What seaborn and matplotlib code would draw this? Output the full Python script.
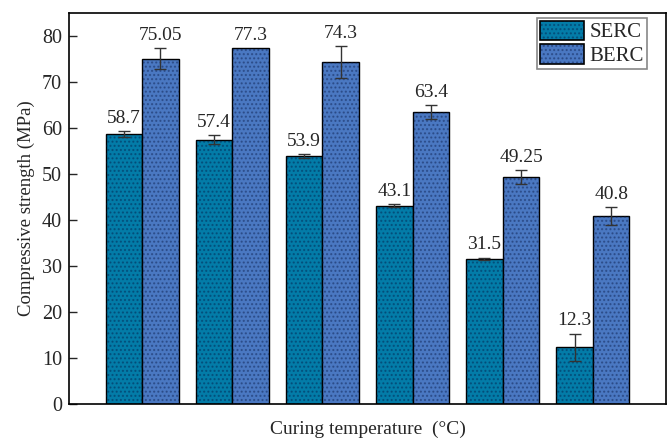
import matplotlib
matplotlib.use("Agg")
import matplotlib.pyplot as plt
from matplotlib.patches import Rectangle
from matplotlib.legend_handler import HandlerTuple
import seaborn as sns
import pandas as pd

# Compressive strength (MPa) of the two mixes at six curing temperatures
groups = ["T1", "T2", "T3", "T4", "T5", "T6"]
serc_strength = [58.7, 57.4, 53.9, 43.1, 31.5, 12.3]
serc_err = [0.65, 1.0, 0.45, 0.3, 0.3, 3.0]
berc_strength = [75.05, 77.3, 74.3, 63.4, 49.25, 40.8]
berc_err = [2.35, 0.0, 3.4, 1.5, 1.55, 1.9]
labels_serc = ["58.7", "57.4", "53.9", "43.1", "31.5", "12.3"]
labels_berc = ["75.05", "77.3", "74.3", "63.4", "49.25", "40.8"]
mixes = ["SERC", "BERC"]
colors = {"SERC": "#037ca8", "BERC": "#4a78c2"}
dot_color = (0.02, 0.08, 0.25, 0.38)

df = pd.DataFrame({
    "group": groups * 2,
    "mix": ["SERC"] * len(groups) + ["BERC"] * len(groups),
    "strength": serc_strength + berc_strength,
})

sns.set_style("ticks")
plt.rcParams["font.family"] = ["Liberation Serif", "DejaVu Serif"]

fig = plt.figure(figsize=(6.7, 4.42), dpi=100)
ax = fig.add_axes([0.103, 0.086, 0.891, 0.885])

sns.barplot(data=df, x="group", y="strength", hue="mix", order=groups,
            hue_order=mixes, palette=colors, errorbar=None, width=0.81,
            edgecolor="black", linewidth=1.0, saturation=1, ax=ax,
            legend=False)

errs = [serc_err, berc_err]
vals = [serc_strength, berc_strength]
texts = [labels_serc, labels_berc]
for cont, err, val, txt in zip(ax.containers, errs, vals, texts):
    for bar, e, v, t in zip(cont.patches, err, val, txt):
        # dotted texture drawn over each bar
        ax.add_patch(Rectangle(bar.get_xy(), bar.get_width(), bar.get_height(),
                               fill=False, hatch="....", lw=0,
                               edgecolor=dot_color, zorder=bar.get_zorder() + 0.1))
        xc = bar.get_x() + bar.get_width() / 2
        if e > 0:
            ax.errorbar(xc, v, yerr=e, fmt="none", ecolor="#333333",
                        elinewidth=1.0, capsize=4.5, capthick=1.0, zorder=5)
        ax.annotate(t, (xc, v + e), xytext=(0, 3), textcoords="offset points",
                    ha="center", va="bottom", fontsize=14)

ax.set_xlim(-0.81, 5.81)
ax.set_ylim(0, 85)
ax.set_yticks(range(0, 81, 10))
ax.set_xticks([])
ax.tick_params(axis="y", direction="in", length=6, width=1.0, labelsize=14.5, pad=5)
for s in ax.spines.values():
    s.set_visible(True)
    s.set_linewidth(1.2)
    s.set_color("black")

ax.set_xlabel("Curing temperature  (\u00b0C)", fontsize=14, labelpad=12)
ax.set_ylabel("Compressive strength (MPa)", fontsize=13.5, labelpad=5)

handles = []
for m in mixes:
    base = Rectangle((0, 0), 1, 1, facecolor=colors[m], edgecolor="black", lw=1.2)
    dots = Rectangle((0, 0), 1, 1, fill=False, hatch="....", lw=0,
                     edgecolor=dot_color)
    handles.append((base, dots))
leg = ax.legend(handles, mixes, handler_map={tuple: HandlerTuple(ndivide=1, pad=0)},
                loc="upper right", bbox_to_anchor=(0.968, 0.988), fontsize=15,
                frameon=True, fancybox=False, edgecolor="#888888", framealpha=1,
                handlelength=2.1, handleheight=1.05, handletextpad=0.25,
                borderpad=0.15, labelspacing=0.1, borderaxespad=0)
leg.get_frame().set_linewidth(1.2)

fig.savefig("out.png", dpi=100)
